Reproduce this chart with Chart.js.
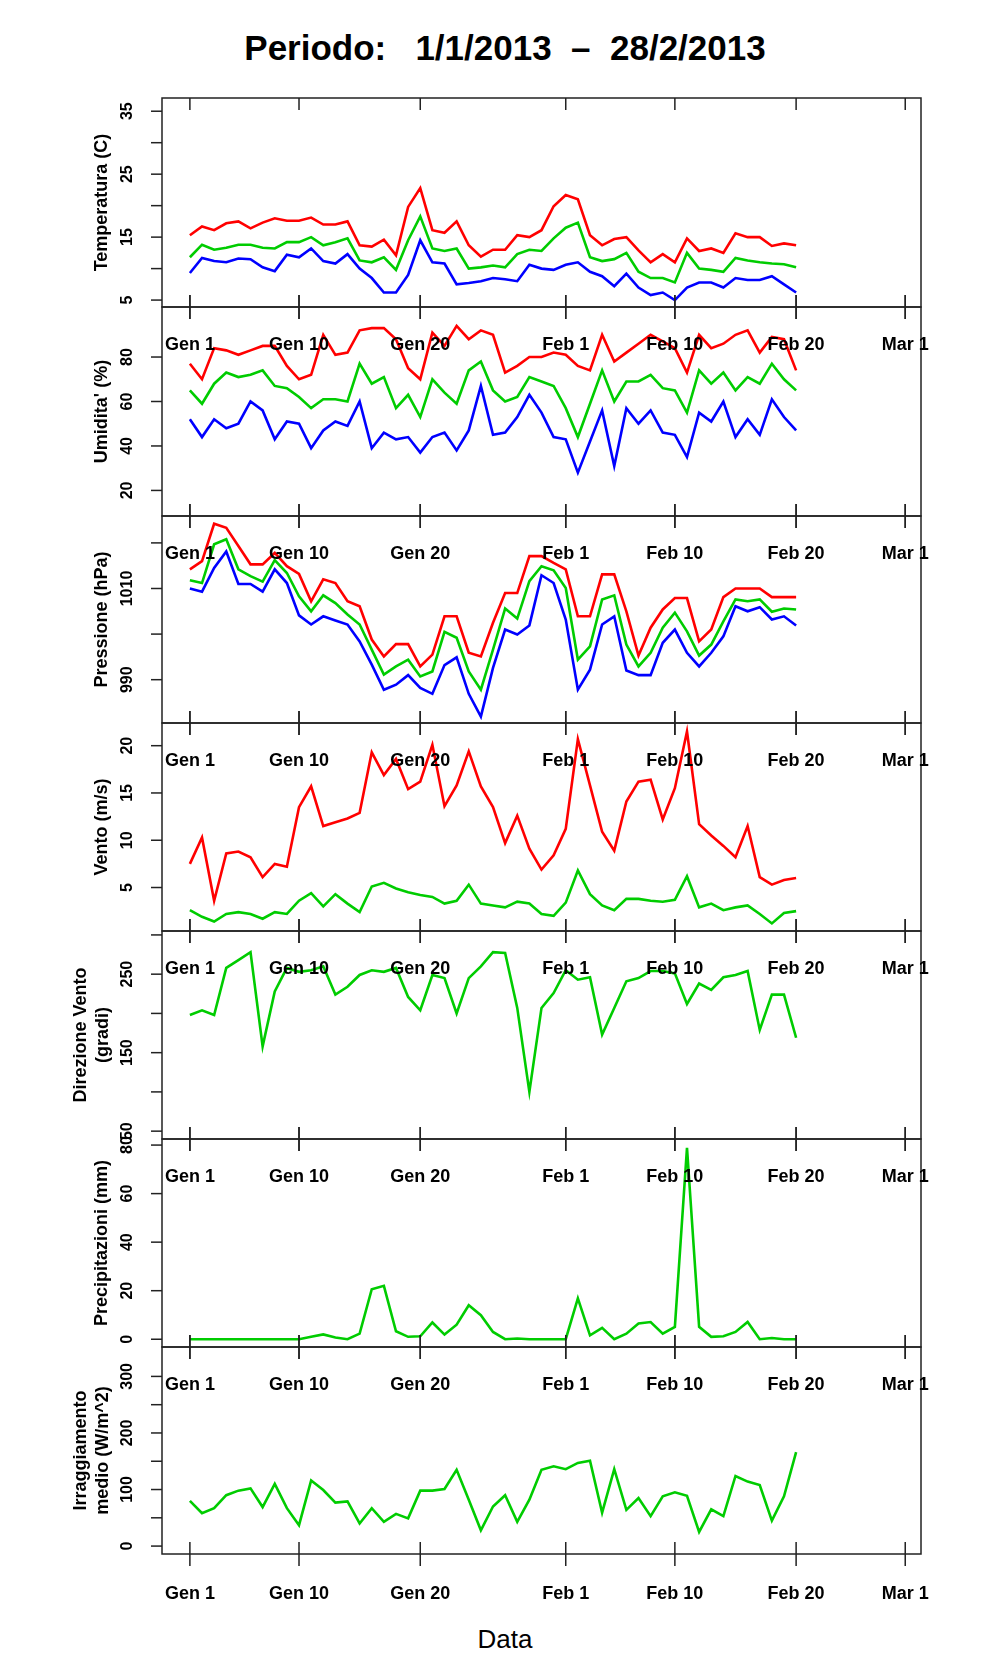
<!DOCTYPE html>
<html>
<head>
<meta charset="utf-8">
<script src="https://cdn.jsdelivr.net/npm/chart.js@4"></script>
<style>
  body { margin: 0; background: #fff; width: 996px; height: 1680px; position: relative; font-family: "Liberation Sans", Arial, sans-serif; }
  canvas { position: absolute; left: 0; }
  #title { position: absolute; top: 28px; left: 0; width: 1010px; text-align: center; font-weight: bold; font-size: 35px; white-space: pre; }
  #xlab { position: absolute; top: 1624px; left: 0; width: 1010px; text-align: center; font-size: 26px; }
</style>
</head>
<body>
<div id="title">Periodo:   1/1/2013  –  28/2/2013</div>
<div id="xlab">Data</div>
<script>
// giorni dal 1 gennaio (0 = Gen 1 ... 50 = Feb 20)
const days = Array.from({ length: 51 }, (_, i) => i);
const xTicks = [0, 9, 19, 31, 40, 50, 59];
const xTickLabels = ['Gen 1', 'Gen 10', 'Gen 20', 'Feb 1', 'Feb 10', 'Feb 20', 'Mar 1'];

const tempMax = [15.3,16.7,16.1,17.2,17.5,16.4,17.3,18,17.6,17.6,18.1,17,17,17.5,13.7,13.5,14.6,12.1,19.8,22.8,16.1,15.7,17.5,13.7,11.9,13,13,15.3,15,16.1,19.9,21.7,21,15.3,13.7,14.7,15,12.9,11,12.3,11,14.8,12.8,13.2,12.5,15.6,15,15,13.6,14,13.7];
const tempMed = [11.8,13.8,13,13.3,13.8,13.8,13.3,13.2,14.2,14.2,15,13.7,14.2,14.8,11.3,11,11.8,9.8,14.5,18.3,13.2,12.8,13.2,10,10.2,10.5,10.2,12.3,13,12.8,14.8,16.5,17.3,11.8,11.2,11.5,12.5,9.5,8.5,8.5,7.8,12.5,10,9.8,9.5,11.7,11.3,11,10.8,10.7,10.2];
const tempMin = [9.3,11.7,11.2,11,11.6,11.5,10.2,9.6,12.2,11.8,13.2,11.2,10.8,12.3,10,8.5,6.2,6.2,9,14.5,11,10.8,7.5,7.7,8,8.5,8.3,8,10.6,10,9.8,10.6,11,9.5,8.8,7.2,9.2,7,5.8,6.2,5,7,7.8,7.8,7,8.5,8.2,8.2,8.8,7.5,6.2];

const umMax = [77,70,84,83,81,83,85,85,76,70,72,90,81,82,92,93,93,88,75,70,91,85,94,88,92,90,73,76,80,80,82,81,76,74,90,78,82,86,90,87,84,73,90,84,86,90,92,82,89,88,74];
const umMed = [65,59,68,73,71,72,74,67,66,62,57,61,61,60,77,68,71,57,63,53,70,64,59,74,78,65,60,62,71,69,67,57,44,59,74,60,69,69,72,66,65,55,74,68,73,65,71,68,77,70,65];
const umMin = [52,44,52,48,50,60,56,43,51,50,39,47,51,49,60,39,46,43,44,37,44,46,38,47,67,45,46,53,63,55,44,43,28,42,56,31,57,50,56,46,45,35,55,51,60,44,52,45,61,53,47];

const presMax = [1014.2,1016,1024.2,1023.3,1019.3,1015.3,1015.3,1017.8,1014.9,1013.2,1007.2,1012,1011.2,1007.2,1006.1,998.8,995.1,997.8,997.8,992.9,995.5,1003.9,1003.9,995.9,995.1,1002.5,1009,1009,1017.1,1017.1,1015.6,1014.2,1003.9,1003.9,1013.1,1013.1,1005,995.3,1001.4,1005.4,1007.9,1007.9,998.4,1001,1008.1,1010,1010,1010,1008.1,1008.1,1008.1];
const presMed = [1011.8,1011.2,1019.7,1020.8,1014.2,1012.7,1011.5,1016.2,1013.4,1008.3,1005,1008.5,1006.8,1004.3,1002.1,996.6,991.1,992.9,994.4,990.7,991.8,1000.5,999.2,991.8,987.8,996.6,1005.6,1003.4,1011.6,1014.9,1014,1010.1,994.4,997.3,1007.6,1008.5,997.7,992.9,995.9,1001.4,1004.7,1000.6,995.3,997.7,1002.8,1007.6,1007.2,1007.6,1004.9,1005.6,1005.4];
const presMin = [1010,1009.3,1014.5,1018.1,1011,1011,1009.3,1014.2,1011.2,1004.1,1002.1,1003.9,1003,1002.1,998.4,993.3,987.8,988.9,991,988.2,986.9,993.2,994.9,986.9,981.9,992.6,1001,999.9,1001.9,1012.9,1011.2,1003.2,987.8,992.2,1002.1,1003.9,992,991,991,998.1,1001,995.9,992.9,995.9,999.5,1006.1,1005,1005.9,1003.2,1003.9,1001.9];

const ventoMax = [7.5,10.3,3.6,8.6,8.8,8.2,6.1,7.5,7.2,13.5,15.7,11.5,11.9,12.3,12.9,19.3,16.9,18.6,15.4,16.2,20.1,13.6,15.8,19.4,15.7,13.5,9.7,12.6,9.1,6.9,8.4,11.2,20.7,15.8,10.9,8.9,14.1,16.2,16.4,12.2,15.5,21.5,11.7,10.5,9.4,8.2,11.5,6.1,5.3,5.8,6];
const ventoMed = [2.6,1.9,1.4,2.2,2.4,2.2,1.7,2.4,2.2,3.6,4.4,3,4.3,3.3,2.4,5.1,5.5,4.9,4.5,4.2,4,3.3,3.6,5.3,3.3,3.1,2.9,3.5,3.3,2.2,2,3.4,6.8,4.3,3.1,2.6,3.8,3.8,3.6,3.5,3.7,6.2,2.9,3.3,2.6,2.9,3.1,2.2,1.2,2.3,2.5];

const direzione = [198,204,198,258,268,278,158,228,258,253,255,260,224,234,249,255,253,258,221,204,249,245,200,245,260,278,277,207,100,207,226,255,243,246,173,207,241,245,254,254,251,212,238,230,246,249,254,179,224,224,169];

const pioggia = [0,0,0,0,0,0,0,0,0,0,1,2,0.7,0,2.3,20.6,22,3.3,1,1.2,6.9,1.9,6,14,9.9,3,0,0.3,0,0,0,0,16.8,1.6,4.7,0,2.3,6.5,7.1,2.3,5.1,78.9,5.1,1,1.2,3,7.1,0,0.5,0,0];

const irraggiamento = [80,58,67,90,98,102,69,110,67,37,116,99,77,79,40,67,43,57,49,98,98,101,135,82,28,70,90,43,82,135,141,136,147,151,59,136,64,85,53,88,95,89,25,65,53,124,114,108,45,88,166];

const RED = '#ff0000', GREEN = '#00cc00', BLUE = '#0000ff';

const panels = [
  { top: 98, bottom: 307, min: 3.9, max: 37.1, ticks: [5,10,15,20,25,30,35], labels: [5,15,25,35], title: ['Temperatura (C)'], series: [[tempMax, RED], [tempMed, GREEN], [tempMin, BLUE]] },
  { top: 307, bottom: 516, min: 8.5, max: 102.5, ticks: [20,40,60,80], labels: [20,40,60,80], title: ["Umidita' (%)"], series: [[umMax, RED], [umMed, GREEN], [umMin, BLUE]] },
  { top: 516, bottom: 723, min: 980.5, max: 1025.9, ticks: [990,1000,1010,1020], labels: [990,1010], title: ['Pressione (hPa)'], series: [[presMax, RED], [presMed, GREEN], [presMin, BLUE]] },
  { top: 723, bottom: 931, min: 0.4, max: 22.4, ticks: [5,10,15,20], labels: [5,10,15,20], title: ['Vento (m/s)'], series: [[ventoMax, RED], [ventoMed, GREEN]] },
  { top: 931, bottom: 1139, min: 40, max: 305, ticks: [50,100,150,200,250,300], labels: [50,150,250], title: ['Direzione Vento', '(gradi)'], series: [[direzione, GREEN]] },
  { top: 1139, bottom: 1347, min: -3.2, max: 82.5, ticks: [0,20,40,60,80], labels: [0,20,40,60,80], title: ['Precipitazioni (mm)'], series: [[pioggia, GREEN]] },
  { top: 1347, bottom: 1554, min: -14, max: 352, ticks: [0,50,100,150,200,250,300], labels: [0,100,200,300], title: ['Irraggiamento', 'medio (W/m^2)'], series: [[irraggiamento, GREEN]] }
];

const PAD = 14;
const LEFT = 162, RIGHT = 921;

const axesPlugin = {
  id: 'rAxes',
  afterDraw(chart) {
    const p = chart.options.plugins.rAxes;
    const ctx = chart.ctx, a = chart.chartArea;
    const xs = chart.scales.x, ys = chart.scales.y;
    ctx.save();
    ctx.strokeStyle = '#222';
    ctx.lineWidth = 1.5;
    ctx.strokeRect(a.left, a.top, a.right - a.left, a.bottom - a.top);
    ctx.fillStyle = '#000';
    // x ticks
    xTicks.forEach((d, i) => {
      const x = xs.getPixelForValue(d);
      ctx.beginPath();
      ctx.moveTo(x, a.top - (p.first ? 0 : 12)); ctx.lineTo(x, a.top + 12);
      ctx.moveTo(x, a.bottom - 12); ctx.lineTo(x, a.bottom + 12);
      ctx.stroke();
      ctx.font = 'bold 18px "Liberation Sans", Arial, sans-serif';
      ctx.textAlign = 'center'; ctx.textBaseline = 'middle';
      if (!p.first) ctx.fillText(xTickLabels[i], x, a.top + 38);
      if (p.last) ctx.fillText(xTickLabels[i], x, a.bottom + 40);
    });
    // y ticks
    p.ticks.forEach(v => {
      const y = ys.getPixelForValue(v);
      ctx.beginPath(); ctx.moveTo(a.left - 11, y); ctx.lineTo(a.left, y); ctx.stroke();
    });
    ctx.font = 'bold 16px "Liberation Sans", Arial, sans-serif';
    p.labels.forEach(v => {
      const y = ys.getPixelForValue(v);
      ctx.save(); ctx.translate(a.left - 34, y); ctx.rotate(-Math.PI / 2);
      ctx.textAlign = 'center'; ctx.textBaseline = 'middle';
      ctx.fillText(String(v), 0, 0); ctx.restore();
    });
    // y title
    ctx.font = 'bold 18px "Liberation Sans", Arial, sans-serif';
    const mid = (a.top + a.bottom) / 2;
    const n = p.title.length;
    p.title.forEach((t, i) => {
      const x = n === 1 ? 102 : 81 + i * 22;
      ctx.save(); ctx.translate(x, mid); ctx.rotate(-Math.PI / 2);
      ctx.textAlign = 'center'; ctx.textBaseline = 'middle';
      ctx.fillText(t, 0, 0); ctx.restore();
    });
    ctx.restore();
  }
};

panels.forEach((p, k) => {
  const last = k === panels.length - 1;
  const canvas = document.createElement('canvas');
  const bottomPad = last ? 60 : PAD;
  canvas.width = 996;
  canvas.height = p.bottom - p.top + PAD + bottomPad;
  canvas.style.top = (p.top - PAD) + 'px';
  document.body.appendChild(canvas);
  new Chart(canvas.getContext('2d'), {
    type: 'line',
    data: {
      datasets: p.series.map(([vals, col]) => ({
        data: days.map((d, i) => ({ x: d, y: vals[i] })),
        borderColor: col,
        borderWidth: 2.6,
        pointRadius: 0,
        tension: 0,
        fill: false
      }))
    },
    options: {
      responsive: false,
      animation: false,
      devicePixelRatio: 1,
      layout: { padding: { left: LEFT, right: 996 - RIGHT, top: PAD, bottom: bottomPad } },
      scales: {
        x: { type: 'linear', min: -2.3, max: 60.3, display: false },
        y: { type: 'linear', min: p.min, max: p.max, display: false }
      },
      plugins: {
        legend: { display: false },
        tooltip: { enabled: false },
        rAxes: { ticks: p.ticks, labels: p.labels, title: p.title, first: k === 0, last: last }
      }
    },
    plugins: [axesPlugin]
  });
});
</script>
</body>
</html>
